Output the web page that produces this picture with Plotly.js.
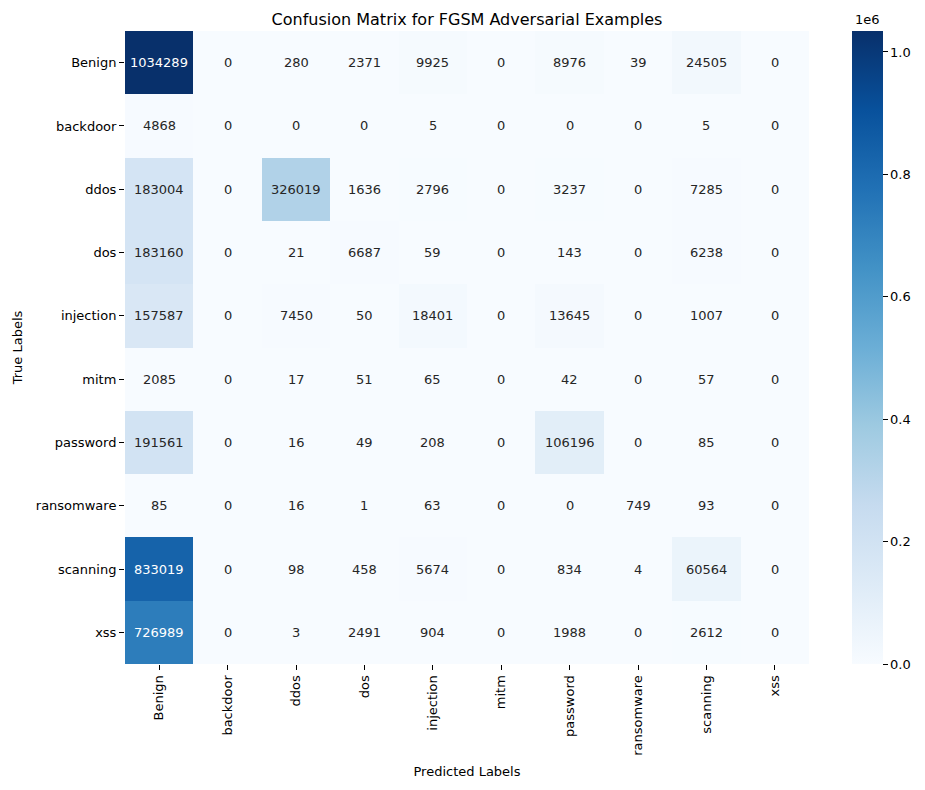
<!DOCTYPE html>
<html>
<head>
<meta charset="utf-8">
<script src="https://cdn.plot.ly/plotly-3.0.1.min.js"></script>
<style>html,body{margin:0;padding:0;background:#fff;}#chart{width:925px;height:790px;}</style>
</head>
<body>
<div id="chart"></div>
<script>
const predictedLabels = ["Benign","backdoor","ddos","dos","injection","mitm","password","ransomware","scanning","xss"];
const trueLabels = ["Benign","backdoor","ddos","dos","injection","mitm","password","ransomware","scanning","xss"];
const rowBenign     = [1034289, 0, 280, 2371, 9925, 0, 8976, 39, 24505, 0];
const rowBackdoor   = [4868, 0, 0, 0, 5, 0, 0, 0, 5, 0];
const rowDdos       = [183004, 0, 326019, 1636, 2796, 0, 3237, 0, 7285, 0];
const rowDos        = [183160, 0, 21, 6687, 59, 0, 143, 0, 6238, 0];
const rowInjection  = [157587, 0, 7450, 50, 18401, 0, 13645, 0, 1007, 0];
const rowMitm       = [2085, 0, 17, 51, 65, 0, 42, 0, 57, 0];
const rowPassword   = [191561, 0, 16, 49, 208, 0, 106196, 0, 85, 0];
const rowRansomware = [85, 0, 16, 1, 63, 0, 0, 749, 93, 0];
const rowScanning   = [833019, 0, 98, 458, 5674, 0, 834, 4, 60564, 0];
const rowXss        = [726989, 0, 3, 2491, 904, 0, 1988, 0, 2612, 0];
const colorbarTicks = [0, 200000, 400000, 600000, 800000, 1000000];
const colorbarTickText = ["0.0","0.2","0.4","0.6","0.8","1.0"];

const z = [rowBenign,rowBackdoor,rowDdos,rowDos,rowInjection,rowMitm,rowPassword,rowRansomware,rowScanning,rowXss];
const zmax = Math.max(...z.flat());

const blues = [
  [0.0,"#f7fbff"],[0.125,"#deebf7"],[0.25,"#c6dbef"],[0.375,"#9ecae1"],
  [0.5,"#6baed6"],[0.625,"#4292c6"],[0.75,"#2171b5"],[0.875,"#08519c"],[1.0,"#08306b"]
];

// text colours like seaborn: white on dark cells
const annotations = [];
z.forEach((row, i) => row.forEach((v, j) => {
  annotations.push({
    x: predictedLabels[j], y: trueLabels[i], xref: "x", yref: "y",
    text: String(v), showarrow: false,
    font: {family: "DejaVu Sans", size: 13, color: (v / zmax) > 0.6 ? "#ffffff" : "#262626"}
  });
}));
annotations.push({
  xref: "paper", yref: "paper", x: 1.086, y: 1.0, yshift: 2,
  xanchor: "center", yanchor: "bottom", text: "1e6", showarrow: false,
  font: {family: "DejaVu Sans", size: 13, color: "#000"}
});

const trace = {
  type: "heatmap",
  x: predictedLabels, y: trueLabels, z: z,
  zmin: 0, zmax: zmax,
  colorscale: blues,
  xgap: 0, ygap: 0,
  hoverinfo: "x+y+z",
  colorbar: {
    x: 1.063, xanchor: "left", xref: "paper",
    y: 0, yanchor: "bottom", len: 1, lenmode: "fraction",
    thickness: 31, thicknessmode: "pixels", ypad: 0, xpad: 0,
    outlinewidth: 0,
    tickmode: "array", tickvals: colorbarTicks, ticktext: colorbarTickText,
    ticks: "outside", ticklen: 5, tickwidth: 1, tickcolor: "#000",
    tickfont: {family: "DejaVu Sans", size: 13, color: "#000"}
  }
};

const layout = {
  width: 925, height: 790,
  margin: {l: 125, r: 116, t: 31, b: 126},
  paper_bgcolor: "#fff", plot_bgcolor: "#fff",
  font: {family: "DejaVu Sans", size: 13, color: "#000"},
  title: {text: "Confusion Matrix for FGSM Adversarial Examples", x: 0.5, xref: "paper", xanchor: "center", y: 1, yref: "paper", yanchor: "bottom", pad: {b: 6}, font: {family: "DejaVu Sans", size: 16, color: "#000"}},
  xaxis: {
    type: "category", tickangle: -90, ticks: "outside", ticklen: 5, tickcolor: "#000",
    showgrid: false, zeroline: false, showline: false,
    tickfont: {family: "DejaVu Sans", size: 13, color: "#000"},
    title: {text: "Predicted Labels", standoff: 12, font: {family: "DejaVu Sans", size: 13, color: "#000"}}
  },
  yaxis: {
    type: "category", autorange: "reversed", ticks: "outside", ticklen: 5, tickcolor: "#000",
    showgrid: false, zeroline: false, showline: false,
    tickfont: {family: "DejaVu Sans", size: 13, color: "#000"},
    title: {text: "True Labels", standoff: 10, font: {family: "DejaVu Sans", size: 13, color: "#000"}}
  },
  annotations: annotations
};

Plotly.newPlot("chart", [trace], layout, {displayModeBar: false, responsive: false});
</script>
</body>
</html>
